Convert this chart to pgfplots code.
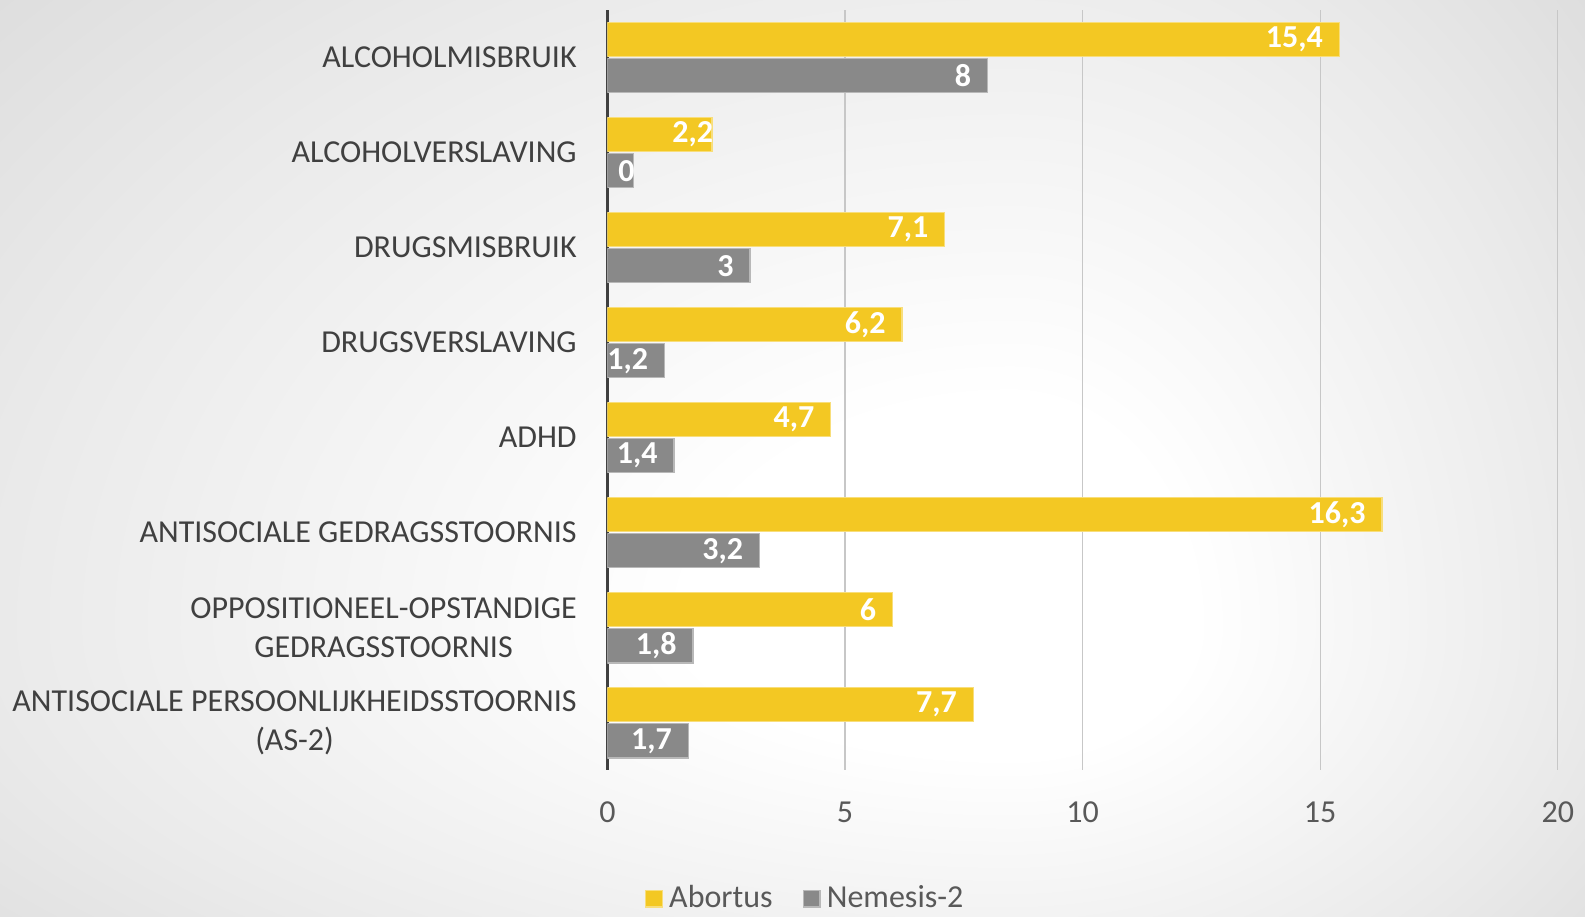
\documentclass[border=0pt]{standalone}
\usepackage{pgfplots}
\pgfplotsset{compat=1.18}
\usepackage{pgfplotstable}
\usepackage{fontspec}
\setmainfont{Carlito}
\usetikzlibrary{backgrounds}

\definecolor{geel}{HTML}{F3C823}
\definecolor{grijs}{HTML}{898989}
\definecolor{tekst}{HTML}{404040}
\definecolor{tick}{HTML}{595959}
\definecolor{bgmid}{HTML}{EAEAEA}
\definecolor{bgrand}{HTML}{D2D2D2}
\definecolor{bghoek}{HTML}{C6C6C6}

% Office-achtige "vanuit midden" verloop
\pgfdeclareradialshading{achtergrond}{\pgfpoint{0bp}{0bp}}{%
  color(0bp)=(white); color(8bp)=(white); color(25bp)=(bgmid);
  color(42bp)=(bgrand); color(60bp)=(bghoek); color(90bp)=(bghoek)}

\pgfplotstableread{
y  a    alab  n     nlab  dx
0  15.4 15,4  8     8     -3
1  2.2  2,2   0.55  0     4
2  7.1  7,1   3     3     -3
3  6.2  6,2   1.2   1,2   -3
4  4.7  4,7   1.4   1,4   -3
5  16.3 16,3  3.2   3,2   -3
6  6    6     1.8   1,8   -3
7  7.7  7,7   1.7   1,7   -3
}\datatable

\begin{document}
\begin{tikzpicture}[font=\fontsize{12.8}{15.4}\selectfont]
\begin{axis}[
  at={(0,0)}, anchor=south west,
  scale only axis, width=380.1pt, height=304.1pt,
  xbar, bar width=0.36,
  xmin=0, xmax=20, ymin=-0.5, ymax=7.5, y dir=reverse,
  axis y line*=left, axis x line*=bottom,
  x axis line style={draw=none},
  y axis line style={draw=tekst, line width=1.4pt},
  xtick={0,5,10,15,20},
  ytick={0,...,7},
  yticklabels={ALCOHOLMISBRUIK, ALCOHOLVERSLAVING, DRUGSMISBRUIK, DRUGSVERSLAVING, ADHD,
    ANTISOCIALE GEDRAGSSTOORNIS, {OPPOSITIONEEL-OPSTANDIGE\\GEDRAGSSTOORNIS},
    {ANTISOCIALE PERSOONLIJKHEIDSSTOORNIS\\(AS-2)}},
  yticklabel style={align=center, text=tekst, xshift=-8.8pt},
  xticklabel style={text=tick, yshift=-9pt},
  /pgf/number format/assume math mode=true,
  major tick length=0pt,
  xmajorgrids, grid style={draw=black!22, line width=0.5pt},
  point meta=explicit symbolic,
  visualization depends on={\thisrow{dx} \as \dx},
  nodes near coords,
  every node near coord/.append style={anchor=east, xshift=\dx pt, text=white,
    font=\fontsize{12.8}{15}\selectfont\bfseries},
  legend columns=2,
  legend style={draw=none, fill=none, at={(0.2096,-0.169)}, anchor=center,
    text=tick, inner sep=0pt,
    /tikz/every odd column/.append style={column sep=0.5pt},
    /tikz/every even column/.append style={column sep=10pt}},
  legend image code/.code={\fill[#1] (0pt,-3.35pt) rectangle (6.7pt,3.35pt);},
]
\addplot[fill=geel, draw=geel!60!white, line width=0.5pt, bar shift=-0.19]
  table[x=a, y=y, meta=alab] {\datatable};
\addplot[fill=grijs, draw=grijs!60!white, line width=0.5pt, bar shift=0.19]
  table[x=n, y=y, meta=nlab] {\datatable};
\legend{Abortus, Nemesis-2}
\end{axis}
\begin{scope}[on background layer]
  \begin{scope}
    \clip (-243.0pt,57.0pt) rectangle (161.7pt,308.1pt);
    \shade[shading=achtergrond] (-243.0pt,-225.6pt) rectangle (565.6pt,340.4pt);
  \end{scope}
  \begin{scope}
    \clip (161.0pt,57.0pt) rectangle (391.0pt,308.1pt);
    \shade[shading=achtergrond] (-68.4pt,-225.6pt) rectangle (391.0pt,340.4pt);
  \end{scope}
  \begin{scope}
    \clip (-243.0pt,-58.6pt) rectangle (161.7pt,57.8pt);
    \shade[shading=achtergrond] (-243.0pt,-104.3pt) rectangle (565.6pt,219.1pt);
  \end{scope}
  \begin{scope}
    \clip (161.0pt,-58.6pt) rectangle (391.0pt,57.8pt);
    \shade[shading=achtergrond] (-68.4pt,-104.3pt) rectangle (391.0pt,219.1pt);
  \end{scope}
\end{scope}
\pgfresetboundingbox
\useasboundingbox (-243.0pt,-58.6pt) rectangle (391.0pt,308.1pt);
\end{tikzpicture}
\end{document}
